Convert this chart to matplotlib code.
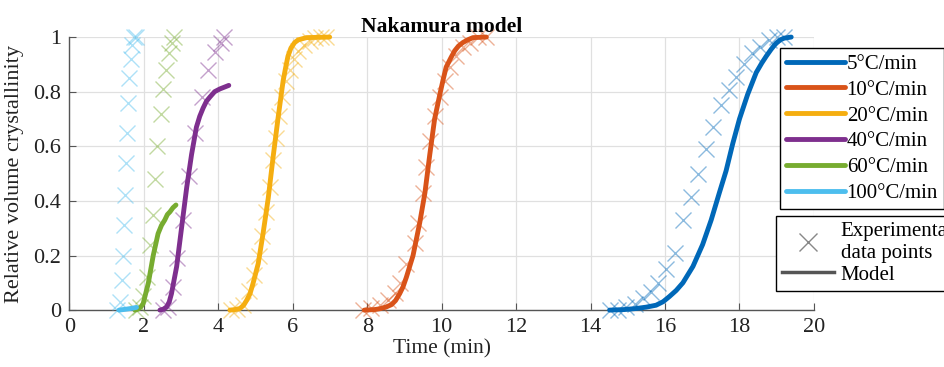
import matplotlib
matplotlib.use('Agg')
import matplotlib.pyplot as plt
from matplotlib.lines import Line2D

plt.rcParams['font.family'] = ['Liberation Serif', 'DejaVu Serif']
plt.rcParams['font.size'] = 15

labels = ['5°C/min', '10°C/min', '20°C/min', '40°C/min', '60°C/min', '100°C/min']
colors = ['#0068B8', '#D95319', '#F5AE10', '#7E2F8E', '#77AC30', '#4DBEEE']

# experimental points
exp_t = [
    [14.51, 14.73, 14.96, 15.18, 15.40, 15.63, 15.81, 16.03, 16.26, 16.48, 16.70, 16.88,
     17.09, 17.28, 17.51, 17.71, 17.91, 18.13, 18.34, 18.56, 18.79, 19.00, 19.20],
    [7.89, 8.11, 8.34, 8.56, 8.74, 8.87, 9.05, 9.28, 9.36, 9.50, 9.59, 9.68, 9.81,
     9.95, 10.08, 10.21, 10.39, 10.57, 10.75, 10.97, 11.20],
    [4.35, 4.50, 4.65, 4.82, 4.96, 5.08, 5.18, 5.28, 5.38, 5.47, 5.55, 5.63, 5.72,
     5.82, 5.92, 6.02, 6.15, 6.30, 6.45, 6.60, 6.75, 6.90],
    [2.50, 2.65, 2.79, 2.90, 3.06, 3.22, 3.37, 3.55, 3.73, 3.91, 4.06, 4.15],
    [1.80, 1.90, 1.98, 2.07, 2.16, 2.25, 2.30, 2.36, 2.45, 2.52, 2.60, 2.68, 2.76, 2.82],
    [1.28, 1.35, 1.40, 1.45, 1.47, 1.49, 1.51, 1.54, 1.56, 1.60, 1.64, 1.68, 1.72, 1.78],
]
exp_x = [
    [0.0, 0.0, 0.01, 0.022, 0.043, 0.067, 0.098, 0.15, 0.21, 0.33, 0.415, 0.50,
     0.59, 0.67, 0.75, 0.806, 0.855, 0.90, 0.94, 0.965, 0.99, 1.0, 1.0],
    [0.0, 0.006, 0.018, 0.037, 0.061, 0.098, 0.17, 0.244, 0.32, 0.43, 0.525, 0.62,
     0.71, 0.78, 0.84, 0.89, 0.93, 0.965, 0.98, 1.0, 1.0],
    [0.0, 0.005, 0.02, 0.07, 0.13, 0.20, 0.27, 0.36, 0.45, 0.55, 0.63, 0.71, 0.78,
     0.84, 0.88, 0.92, 0.95, 0.97, 0.985, 0.995, 1.0, 1.0],
    [0.0, 0.01, 0.085, 0.19, 0.33, 0.49, 0.65, 0.78, 0.88, 0.945, 0.98, 1.0],
    [0.0, 0.01, 0.05, 0.12, 0.24, 0.35, 0.48, 0.60, 0.72, 0.81, 0.88, 0.94, 0.98, 1.0],
    [0.0, 0.03, 0.11, 0.20, 0.31, 0.42, 0.54, 0.65, 0.76, 0.85, 0.92, 0.97, 1.0, 1.0],
]

# model curves
mod_t = [
    [14.51, 14.90, 15.23, 15.50, 15.76, 15.95, 16.12, 16.30, 16.48, 16.75, 17.01,
     17.24, 17.46, 17.64, 17.82, 18.00, 18.22, 18.45, 18.60, 18.72, 18.85, 18.98,
     19.10, 19.20, 19.39],
    [7.92, 8.20, 8.34, 8.50, 8.65, 8.76, 8.87, 8.96, 9.05, 9.23, 9.41, 9.55, 9.68,
     9.81, 9.95, 10.04, 10.12, 10.25, 10.35, 10.45, 10.57, 10.70, 10.84, 11.20],
    [4.31, 4.45, 4.58, 4.68, 4.76, 4.85, 4.93, 5.07, 5.20, 5.34, 5.47, 5.61, 5.74,
     5.81, 5.87, 5.95, 6.05, 6.15, 6.37, 6.99],
    [2.43, 2.53, 2.61, 2.68, 2.74, 2.88, 3.01, 3.15, 3.28, 3.41, 3.50, 3.59, 3.68,
     3.77, 3.90, 4.04, 4.28],
    [1.76, 1.85, 1.92, 1.98, 2.12, 2.25, 2.38, 2.47, 2.56, 2.63, 2.70, 2.78, 2.86],
    [1.33, 1.50, 1.65, 1.80],
]
mod_x = [
    [0.0, 0.002, 0.006, 0.011, 0.018, 0.031, 0.05, 0.072, 0.10, 0.16, 0.24, 0.33,
     0.43, 0.51, 0.61, 0.70, 0.79, 0.87, 0.905, 0.93, 0.955, 0.977, 0.99, 0.996, 1.0],
    [0.0, 0.002, 0.005, 0.011, 0.02, 0.035, 0.06, 0.085, 0.12, 0.20, 0.32, 0.43,
     0.57, 0.70, 0.79, 0.845, 0.89, 0.925, 0.95, 0.967, 0.98, 0.99, 0.998, 1.0],
    [0.0, 0.002, 0.006, 0.018, 0.036, 0.06, 0.097, 0.17, 0.28, 0.41, 0.56, 0.71,
     0.84, 0.89, 0.93, 0.96, 0.98, 0.99, 0.998, 1.0],
    [0.0, 0.004, 0.012, 0.03, 0.06, 0.16, 0.30, 0.45, 0.57, 0.67, 0.71, 0.74, 0.765,
     0.78, 0.80, 0.81, 0.823],
    [0.0, 0.004, 0.012, 0.024, 0.10, 0.20, 0.28, 0.31, 0.33, 0.35, 0.36, 0.375, 0.385],
    [0.0, 0.003, 0.006, 0.01],
]

fig = plt.figure(figsize=(9.44, 3.67), dpi=100)
ax = fig.add_axes([0.0736, 0.155, 0.7886, 0.744])

for i in range(len(labels)):
    ax.plot(exp_t[i], exp_x[i], linestyle='none', marker='x', markersize=12,
            markeredgewidth=1.0, color=colors[i], alpha=0.45, clip_on=False, zorder=3)

lines = []
for i in range(len(labels)):
    ln, = ax.plot(mod_t[i], mod_x[i], color=colors[i], linewidth=3.5,
                  solid_capstyle='round', solid_joinstyle='round', clip_on=False, zorder=4)
    lines.append(ln)

ax.set_xlim(0, 20)
ax.set_ylim(0, 1)
ax.set_xticks(range(0, 21, 2))
ax.set_yticks([0, 0.2, 0.4, 0.6, 0.8, 1])
ax.set_yticklabels(['0', '0.2', '0.4', '0.6', '0.8', '1'])
ax.grid(True, color='#e0e0e0', linewidth=0.9)
ax.set_axisbelow(True)
for s in ['top', 'right']:
    ax.spines[s].set_visible(False)
for s in ['left', 'bottom']:
    ax.spines[s].set_color('#555555')
    ax.spines[s].set_linewidth(1.0)
ax.tick_params(direction='in', length=5, color='#555555', labelcolor='#222222',
               pad=6, labelsize=16)

ax.set_xlabel('Time (min)', labelpad=1, color='#222222', fontsize=15.5)
ax.set_ylabel('Relative volume crystallinity', labelpad=7, color='#222222', fontsize=16)
ax.set_title('Nakamura model', fontweight='bold', fontsize=15.5, pad=4)

leg1 = ax.legend(lines, labels, loc='upper left', bbox_to_anchor=(780 / 944, 1 - 48 / 367),
                 bbox_transform=fig.transFigure, frameon=True, fancybox=False,
                 edgecolor='black', framealpha=1, handlelength=2.8, handletextpad=0.1,
                 labelspacing=0.3, borderpad=0.3, borderaxespad=0, fontsize=15)
leg1.get_frame().set_linewidth(1.0)
ax.add_artist(leg1)

h_exp = Line2D([], [], linestyle='none', marker='x', markersize=13, markeredgewidth=1.0,
               color='#888888')
h_mod = Line2D([], [], color='#555555', linewidth=2.5)
leg2 = ax.legend([h_exp, h_mod], ['Experimental\ndata points', 'Model'], loc='upper left',
                 bbox_to_anchor=(776 / 944, 1 - 216 / 367), bbox_transform=fig.transFigure,
                 frameon=True, fancybox=False, edgecolor='black', framealpha=1,
                 handlelength=2.5, handletextpad=0.3, labelspacing=0.1, borderpad=0.3,
                 borderaxespad=0, fontsize=15)
leg2.get_frame().set_linewidth(1.0)

fig.savefig('out.png', dpi=100)
